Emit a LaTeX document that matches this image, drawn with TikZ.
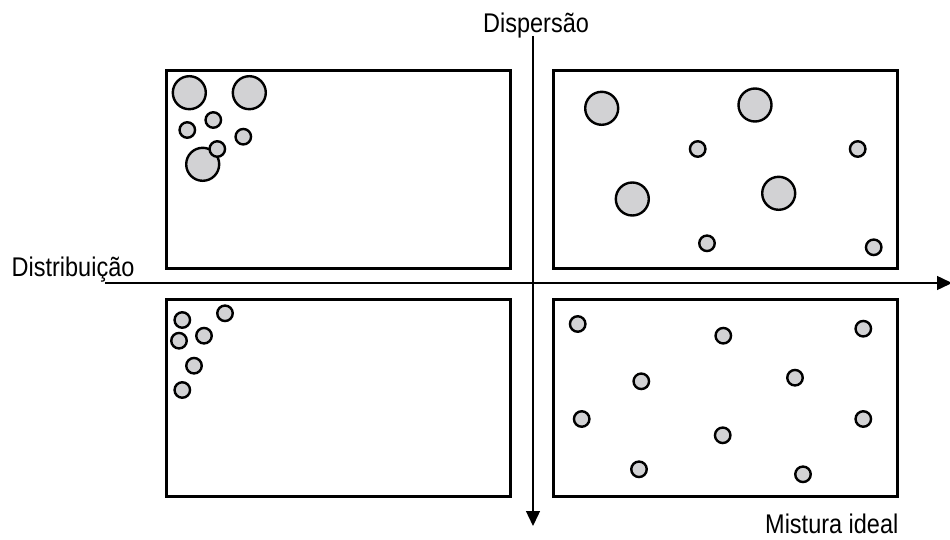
\documentclass[tikz,border=0pt]{standalone}
\usepackage{fontspec}
\setmainfont{Liberation Sans}[FakeStretch=0.87]
\usetikzlibrary{arrows.meta}
\definecolor{grain}{RGB}{210,210,212}
\begin{document}
\begin{tikzpicture}[
        x=1pt, y=-1pt,
        box/.style={draw, line width=3pt, minimum width=344pt, minimum height=197pt, inner sep=0pt},
        big/.style={draw, circle, fill=grain, line width=2.4pt, minimum size=33pt, inner sep=0pt},
        small/.style={draw, circle, fill=grain, line width=2.4pt, minimum size=15.5pt, inner sep=0pt},
        axis/.style={line width=1.4pt, -{Triangle[width=14pt, length=15pt]}},
        lbl/.style={anchor=base west, inner sep=0pt, font=\fontsize{27}{32}\selectfont}
    ]
        \useasboundingbox (0,0) rectangle (950,540);

        % Štirje okvirji (kvadranti)
        \node[box] (tl) at (338, 169.5) {};
        \node[box] (tr) at (725.5, 169.5) {};
        \node[box] (bl) at (338, 397.5) {};
        \node[box] (br) at (725.5, 397.5) {};

        % --- OSI ---
        \coordinate (hstart) at (105, 283);
        \coordinate (hend) at (952, 283);
        \coordinate (vstart) at (533, 36);
        \coordinate (vend) at (533, 526);
        \draw[axis] (hstart) -- (hend);
        \draw[axis] (vstart) -- (vend);

        % Napisi ob oseh
        \node[lbl] (disp) at (483, 33) {Dispersão};
        \node[lbl] (dist) at (11.5, 276) {Distribuição};
        \node[lbl] (ideal) at (765, 533) {Mistura ideal};

        % --- ZGORAJ LEVO: zbrano, veliki in mali delci ---
        \node[big] (tlb1) at (189.3, 92.7) {};
        \node[big] (tlb2) at (249.3, 92.7) {};
        \node[big] (tlb3) at (202.7, 164.3) {};
        \foreach \x/\y [count=\i] in {213.3/120, 187.3/130, 243.3/136.7, 217.3/149} {
            \node[small] (tls\i) at (\x, \y) {};
        }

        % --- ZGORAJ DESNO: razpršeno, veliki in mali delci ---
        \foreach \x/\y [count=\i] in {601.7/108.3, 755/105, 632.3/199, 778.7/193.3} {
            \node[big] (trb\i) at (\x, \y) {};
        }
        \foreach \x/\y [count=\i] in {697.7/149, 857.7/149, 707/243.3, 873.7/247.3} {
            \node[small] (trs\i) at (\x, \y) {};
        }

        % --- SPODAJ LEVO: zbrano, samo mali delci ---
        \foreach \x/\y [count=\i] in {182.3/320, 225/313.3, 204/335.7, 179/340.7, 194/365.7, 182.3/390} {
            \node[small] (bls\i) at (\x, \y) {};
        }

        % --- SPODAJ DESNO: idealna mešanica ---
        \foreach \x/\y [count=\i] in {577.7/324, 723.3/335.7, 863.3/328.7, 641.3/381.3, 795/377.7,
                                      581.7/419, 722.7/435.3, 863.3/419, 639/469.3, 803/474.3} {
            \node[small] (brs\i) at (\x, \y) {};
        }
    \end{tikzpicture}
\end{document}
